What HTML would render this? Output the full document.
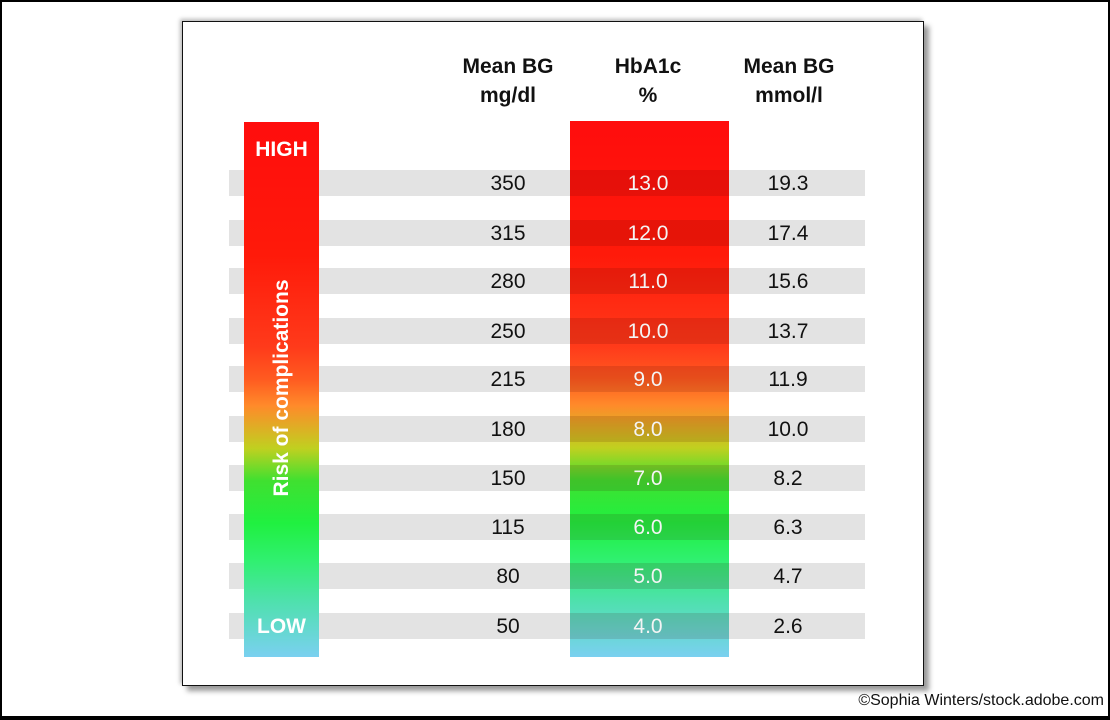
<!DOCTYPE html>
<html><head><style>
body{margin:0;width:1110px;height:720px;position:relative;background:#fff;font-family:"Liberation Sans",Arial,sans-serif;overflow:hidden}
.frame{position:absolute;left:0;top:0;width:1106px;height:714px;border:2px solid #000;border-bottom-width:4px}
.panel{position:absolute;left:182px;top:21px;width:740px;height:663px;border:1px solid #111;box-shadow:5px 5px 5px #999,-2px -2px 4px #bbb;background:#fff}
.abs{position:absolute}
.bar{position:absolute;left:229px;width:636px;height:26px;background:#e3e3e3}
.ov{position:absolute;left:570px;width:159px;height:26px;background:rgba(60,0,0,0.13)}
.grad{background:linear-gradient(to bottom,#ff0d0d 0%,#ff1a0a 25%,#ff3a1a 42%,#ff5a20 48%,#ff8a2a 53%,#c0d020 61%,#40e030 67%,#20f040 75%,#30f070 82%,#50e0b0 90%,#7ad0f0 100%)}
.h{position:absolute;font-weight:bold;font-size:21px;text-align:center;width:160px;line-height:29px;color:#111}
.n{position:absolute;font-size:21px;text-align:center;width:100px;line-height:28px;color:#111}
.w{color:#f4f4f4}
</style></head><body>
<div class="frame"></div>
<div class="panel"></div>
<div class="bar" style="top:170px"></div>
<div class="bar" style="top:220px"></div>
<div class="bar" style="top:268px"></div>
<div class="bar" style="top:318px"></div>
<div class="bar" style="top:366px"></div>
<div class="bar" style="top:416px"></div>
<div class="bar" style="top:465px"></div>
<div class="bar" style="top:514px"></div>
<div class="bar" style="top:563px"></div>
<div class="bar" style="top:613px"></div>
<div class="abs grad" style="left:244px;top:122px;width:75px;height:535px"></div>
<div class="abs grad" style="left:570px;top:121px;width:159px;height:536px"></div>
<div class="ov" style="top:170px"></div>
<div class="ov" style="top:220px"></div>
<div class="ov" style="top:268px"></div>
<div class="ov" style="top:318px"></div>
<div class="ov" style="top:366px"></div>
<div class="ov" style="top:416px"></div>
<div class="ov" style="top:465px"></div>
<div class="ov" style="top:514px"></div>
<div class="ov" style="top:563px"></div>
<div class="ov" style="top:613px"></div>
<div class="h" style="left:428px;top:52px">Mean BG<br>mg/dl</div>
<div class="h" style="left:568px;top:52px">HbA1c<br>%</div>
<div class="h" style="left:709px;top:52px">Mean BG<br>mmol/l</div>
<div class="abs" style="left:244px;width:75px;top:138px;text-align:center;color:#fff;font-weight:bold;font-size:21px">HIGH</div>
<div class="abs" style="left:244px;width:75px;top:615px;text-align:center;color:#fff;font-weight:bold;font-size:21px">LOW</div>
<div class="abs" style="left:162px;top:376px;width:240px;text-align:center;color:#fff;font-weight:bold;font-size:21px;white-space:nowrap;transform:rotate(-90deg)">Risk of complications</div>
<div class="n" style="left:458px;top:170px">350</div><div class="n w" style="left:598px;top:170px">13.0</div><div class="n" style="left:738px;top:170px">19.3</div>
<div class="n" style="left:458px;top:220px">315</div><div class="n w" style="left:598px;top:220px">12.0</div><div class="n" style="left:738px;top:220px">17.4</div>
<div class="n" style="left:458px;top:268px">280</div><div class="n w" style="left:598px;top:268px">11.0</div><div class="n" style="left:738px;top:268px">15.6</div>
<div class="n" style="left:458px;top:318px">250</div><div class="n w" style="left:598px;top:318px">10.0</div><div class="n" style="left:738px;top:318px">13.7</div>
<div class="n" style="left:458px;top:366px">215</div><div class="n w" style="left:598px;top:366px">9.0</div><div class="n" style="left:738px;top:366px">11.9</div>
<div class="n" style="left:458px;top:416px">180</div><div class="n w" style="left:598px;top:416px">8.0</div><div class="n" style="left:738px;top:416px">10.0</div>
<div class="n" style="left:458px;top:465px">150</div><div class="n w" style="left:598px;top:465px">7.0</div><div class="n" style="left:738px;top:465px">8.2</div>
<div class="n" style="left:458px;top:514px">115</div><div class="n w" style="left:598px;top:514px">6.0</div><div class="n" style="left:738px;top:514px">6.3</div>
<div class="n" style="left:458px;top:563px">80</div><div class="n w" style="left:598px;top:563px">5.0</div><div class="n" style="left:738px;top:563px">4.7</div>
<div class="n" style="left:458px;top:613px">50</div><div class="n w" style="left:598px;top:613px">4.0</div><div class="n" style="left:738px;top:613px">2.6</div>
<div class="abs" style="right:6px;top:692px;font-family:'Liberation Sans',sans-serif;font-size:16px;color:#111">©Sophia Winters/stock.adobe.com</div>
</body></html>
